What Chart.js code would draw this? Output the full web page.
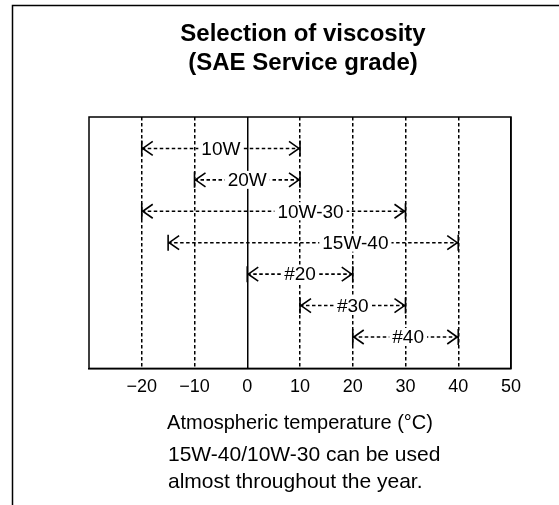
<!DOCTYPE html>
<html>
<head>
<meta charset="utf-8">
<script src="https://cdn.jsdelivr.net/npm/chart.js@4.4.1/dist/chart.umd.min.js"></script>
<style>
  body { margin: 0; background: #fff; }
  canvas { display: block; }
</style>
</head>
<body>
<canvas id="viscosityChart" width="559" height="505"></canvas>
<script>
// oil grades and the temperature range each one covers (°C)
const grades = ['10W', '20W', '10W-30', '15W-40', '#20', '#30', '#40'];
const lowTemp = [-20, -10, -20, -15, 0, 10, 20];
const highTemp = [10, 10, 30, 40, 20, 30, 40];
// where the grade name sits on its arrow
const labelAt = [-5, 0, 12, 20.5, 10, 20, 30.5];
const tempTicks = [-20, -10, 0, 10, 20, 30, 40, 50];

const titleLines = ['Selection of viscosity', '(SAE Service grade)'];
const axisTitle = 'Atmospheric temperature (°C)';
const noteLines = ['15W-40/10W-30 can be used', 'almost throughout the year.'];

const FONT = '"Liberation Sans", Arial, sans-serif';

// draws the arrow heads, grade names, frame, title and notes
const arrowPlugin = {
    id: 'arrows',
    beforeDraw: function(chart) {
        const ctx = chart.ctx;
        ctx.save();
        ctx.fillStyle = '#fff';
        ctx.fillRect(0, 0, chart.width, chart.height);
        // outer frame (left and top only, like the scan)
        ctx.strokeStyle = '#000';
        ctx.lineWidth = 1.5;
        ctx.beginPath();
        ctx.moveTo(12.5, chart.height);
        ctx.lineTo(12.5, 5.5);
        ctx.lineTo(chart.width, 5.5);
        ctx.stroke();
        ctx.restore();
    },
    afterDatasetsDraw: function(chart) {
        const ctx = chart.ctx;
        const xs = chart.scales.x;
        ctx.save();
        ctx.strokeStyle = '#000';
        ctx.lineWidth = 1.6;
        ctx.setLineDash([]);
        chart.data.datasets.forEach(function(ds, i) {
            const meta = chart.getDatasetMeta(i);
            const a = meta.data[0];
            const b = meta.data[1];
            // left head  |<
            ctx.beginPath();
            ctx.moveTo(a.x, a.y - 8);
            ctx.lineTo(a.x, a.y + 8);
            ctx.moveTo(a.x + 11, a.y - 7);
            ctx.lineTo(a.x + 1, a.y);
            ctx.lineTo(a.x + 11, a.y + 7);
            ctx.stroke();
            // right head  >|
            ctx.beginPath();
            ctx.moveTo(b.x, b.y - 8);
            ctx.lineTo(b.x, b.y + 8);
            ctx.moveTo(b.x - 11, b.y - 7);
            ctx.lineTo(b.x - 1, b.y);
            ctx.lineTo(b.x - 11, b.y + 7);
            ctx.stroke();

            // grade name over the dashed line
            const lx = xs.getPixelForValue(labelAt[i]);
            ctx.font = '19px ' + FONT;
            const w = ctx.measureText(grades[i]).width;
            ctx.fillStyle = '#fff';
            ctx.fillRect(lx - w / 2 - 3, a.y - 9, w + 6, 18);
            ctx.fillStyle = '#000';
            ctx.textAlign = 'center';
            ctx.textBaseline = 'middle';
            ctx.fillText(grades[i], lx, a.y + 1);
        });
        ctx.restore();
    },
    afterDraw: function(chart) {
        const ctx = chart.ctx;
        const area = chart.chartArea;
        ctx.save();
        ctx.strokeStyle = '#000';
        ctx.lineWidth = 1.5;
        ctx.setLineDash([]);
        ctx.strokeRect(area.left, area.top, area.right - area.left, area.bottom - area.top);

        ctx.fillStyle = '#000';
        ctx.textBaseline = 'alphabetic';
        ctx.textAlign = 'center';
        ctx.font = 'bold 24px ' + FONT;
        const cx = (area.left + area.right) / 2 + 3;
        ctx.fillText(titleLines[0], cx, 41);
        ctx.fillText(titleLines[1], cx, 70);

        ctx.textAlign = 'left';
        ctx.font = '21px ' + FONT;
        ctx.fillText(noteLines[0], 168, 461);
        ctx.fillText(noteLines[1], 168, 488);
        ctx.restore();
    }
};

const datasets = grades.map(function(g, i) {
    return {
        label: g,
        data: [{x: lowTemp[i], y: i + 1}, {x: highTemp[i], y: i + 1}],
        showLine: true,
        borderColor: '#000',
        borderWidth: 1.6,
        borderDash: [3.5, 2.5],
        pointRadius: 0,
        pointHoverRadius: 0
    };
});

new Chart(document.getElementById('viscosityChart'), {
    type: 'scatter',
    data: { datasets: datasets },
    options: {
        responsive: false,
        animation: false,
        devicePixelRatio: 1,
        layout: {
            padding: { top: 117, left: 89, right: 48, bottom: 70 }
        },
        scales: {
            x: {
                type: 'linear',
                min: -30,
                max: 50,
                afterBuildTicks: function(scale) {
                    scale.ticks = tempTicks.map(function(v) { return { value: v }; });
                },
                ticks: {
                    color: '#000',
                    padding: 8,
                    maxRotation: 0,
                    font: { family: FONT, size: 18 },
                    callback: function(value) {
                        return value < 0 ? '\u2212' + Math.abs(value) : String(value);
                    }
                },
                grid: {
                    color: '#000',
                    lineWidth: 1.5,
                    drawTicks: false
                },
                border: {
                    display: true,
                    color: '#000',
                    width: 1.5,
                    dash: function(ctx) {
                        if (!ctx.tick) return [];
                        return (ctx.tick.value === 0 || ctx.tick.value === 50) ? [] : [3.5, 2.5];
                    }
                },
                title: {
                    display: true,
                    text: axisTitle,
                    color: '#000',
                    font: { family: FONT, size: 20 },
                    padding: { top: 5, bottom: 0 }
                }
            },
            y: {
                type: 'linear',
                display: false,
                min: 0,
                max: 8,
                reverse: true
            }
        },
        plugins: {
            legend: { display: false },
            tooltip: { enabled: false }
        }
    },
    plugins: [arrowPlugin]
});
</script>
</body>
</html>
